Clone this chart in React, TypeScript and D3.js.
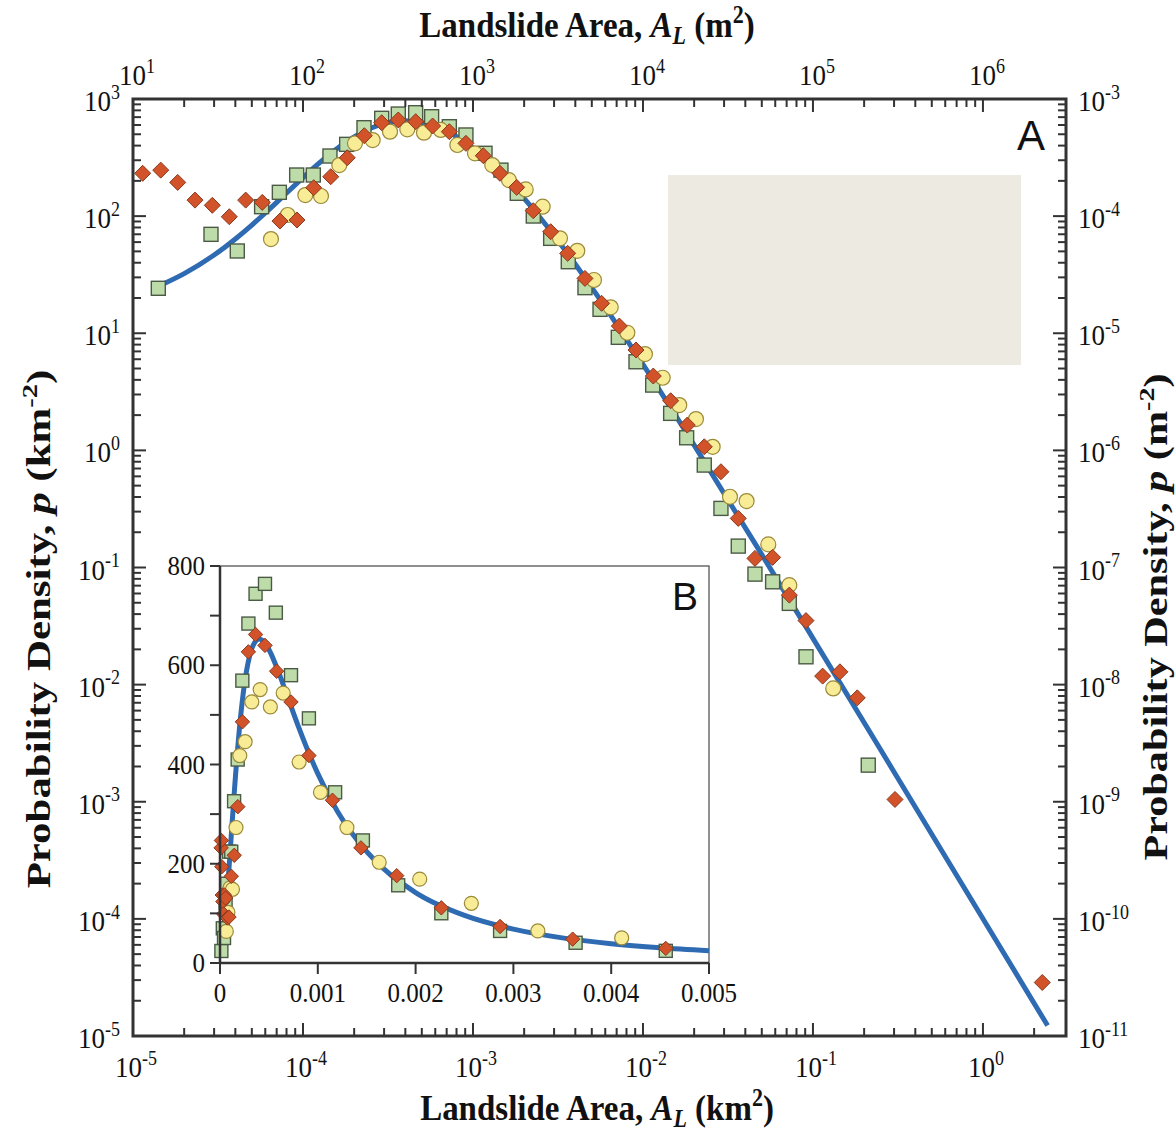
import React from 'react';
import * as d3 from 'd3';

// ---------- data (A in km², p in km^-2) ----------
const curveA = [0, 1e-5, 1.4e-5, 2e-5, 3e-5, 4e-5, 5e-5, 6e-5, 7e-5, 8e-5, 1e-4, 1.2e-4, 1.5e-4, 2e-4, 2.5e-4, 3e-4, 3.5e-4, 4e-4, 4.5e-4, 5e-4, 6e-4, 7e-4, 8e-4, 1e-3, 1.2e-3, 1.5e-3, 2e-3, 2.5e-3, 3e-3, 3.5e-3, 4e-3, 4.5e-3, 5e-3, 7e-3, 1e-2, 2e-2, 5e-2, 0.1, 0.3, 1, 2.4];
const curveP = [12.6, 21.0, 25.1, 32.3, 46.5, 63.8, 83.8, 106.3, 130.9, 157.4, 213.3, 270.9, 355.0, 475.2, 562.0, 616.5, 644.5, 652.9, 647.0, 631.9, 585.7, 531.4, 477.4, 381.6, 306.0, 224.3, 142.0, 96.0, 68.3, 50.65, 38.8, 30.5, 24.49, 11.92, 5.413, 1.109, 0.129, 0.02484, 1.797e-3, 1.003e-4, 1.228e-5];

const squareA = [1.409e-5, 2.876e-5, 4.107e-5, 5.71e-5, 7.26e-5, 9.18e-5, 1.150e-4, 1.441e-4, 1.807e-4, 2.285e-4, 2.904e-4, 3.636e-4, 4.60e-4, 5.71e-4, 7.26e-4, 9.09e-4, 1.177e-3, 1.461e-3, 1.822e-3, 2.263e-3, 2.864e-3, 3.636e-3, 4.558e-3, 5.59e-3, 7.16e-3, 9.10e-3, 1.141e-2, 1.455e-2, 1.807e-2, 2.294e-2, 2.876e-2, 3.636e-2, 4.558e-2, 5.79e-2, 7.26e-2, 9.10e-2, 0.2115];
const squareP = [24.2, 69.9, 50.4, 120.3, 159.7, 224.4, 224.4, 326, 410, 569, 684, 744, 764, 706, 580, 493, 344, 247, 156.6, 100.2, 64.6, 40.8, 24.5, 16.0, 9.23, 5.71, 3.61, 2.07, 1.281, 0.749, 0.3196, 0.1523, 0.0878, 0.0755, 0.0494, 0.01728, 2.054e-3];

const circleA = [6.48e-5, 8.13e-5, 1.032e-4, 1.276e-4, 1.635e-4, 2.022e-4, 2.57e-4, 3.25e-4, 4.107e-4, 5.15e-4, 6.46e-4, 8.09e-4, 1.027e-3, 1.298e-3, 1.628e-3, 2.042e-3, 2.57e-3, 3.25e-3, 4.107e-3, 5.15e-3, 6.46e-3, 8.09e-3, 1.027e-2, 1.306e-2, 1.635e-2, 2.05e-2, 2.57e-2, 3.25e-2, 4.07e-2, 5.46e-2, 7.26e-2, 0.1316];
const circleP = [63.7, 102.2, 151.4, 148.5, 273, 418, 446, 526, 551, 516, 544, 405, 344, 273, 203, 169, 120.3, 64.6, 50.6, 28.5, 16.64, 10.1, 6.64, 4.17, 2.436, 1.851, 1.073, 0.4017, 0.369, 0.1575, 0.0707, 0.00928];

const diamondA = [1.140e-5, 1.456e-5, 1.832e-5, 2.316e-5, 2.928e-5, 3.686e-5, 4.60e-5, 5.76e-5, 7.32e-5, 9.22e-5, 1.156e-4, 1.456e-4, 1.822e-4, 2.294e-4, 2.904e-4, 3.636e-4, 4.60e-4, 5.79e-4, 7.26e-4, 9.09e-4, 1.150e-3, 1.441e-3, 1.807e-3, 2.263e-3, 2.864e-3, 3.606e-3, 4.558e-3, 5.71e-3, 7.26e-3, 9.10e-3, 1.150e-2, 1.455e-2, 1.822e-2, 2.294e-2, 2.876e-2, 3.636e-2, 4.558e-2, 5.79e-2, 7.26e-2, 9.10e-2, 0.1140, 0.1441, 0.1822, 0.3037, 2.233];
const diamondP = [232, 247, 194, 137, 123.7, 98.8, 137, 131, 90.8, 92.6, 174.8, 217, 315, 486, 627, 662, 640, 588, 526, 418, 328, 232, 176, 111.2, 73.6, 48.1, 29.4, 18.0, 11.52, 7.19, 4.31, 2.652, 1.644, 1.073, 0.657, 0.2626, 0.1196, 0.1220, 0.0581, 0.0352, 0.01182, 0.01286, 0.00771, 1.046e-3, 2.863e-5];

const bottomExps = ['-5', '-4', '-3', '-2', '-1', '0'];
const topExps = ['1', '2', '3', '4', '5', '6'];
const leftExps = ['3', '2', '1', '0', '-1', '-2', '-3', '-4', '-5'];
const rightExps = ['-3', '-4', '-5', '-6', '-7', '-8', '-9', '-10', '-11'];
const insetXTicks = [0, 0.001, 0.002, 0.003, 0.004, 0.005];
const insetXLabels = ['0', '0.001', '0.002', '0.003', '0.004', '0.005'];
const insetYTicks = [0, 100, 200, 300, 400, 500, 600, 700, 800];
const insetYLabels = [0, 200, 400, 600, 800];

const SERIF = '"Liberation Serif", "Times New Roman", serif';
const SANS = '"Liberation Sans", Arial, sans-serif';
const AX = '#333';
const BLUE = '#2E6BB2';
const SQ_FILL = '#BEDCAA', SQ_STROKE = '#4A5A45';
const CI_FILL = '#F9EC96', CI_STROKE = '#9A8A3A';
const DI_FILL = '#D2522A', DI_STROKE = '#8A3A1E';

const TS = 1.12; // vertical stretch of text

function Pow({ x, y, exp, anchor }: { x: number; y: number; exp: string; anchor: string }) {
  return (
    <text transform={`translate(${x},${y}) scale(1,${TS})`} textAnchor={anchor} fontFamily={SERIF} fontSize={27} fill="#111">
      10<tspan dy={-11} fontSize={18}>{exp}</tspan>
    </text>
  );
}

function Markers({ A, P, sx, sy, kind, s }: any) {
  return (
    <g>
      {A.map((a: number, i: number) => {
        const cx = sx(a), cy = sy(P[i]);
        if (kind === 'sq') return <rect key={i} x={cx - s} y={cy - s} width={2 * s} height={2 * s} fill={SQ_FILL} stroke={SQ_STROKE} strokeWidth={1.4} />;
        if (kind === 'ci') return <circle key={i} cx={cx} cy={cy} r={s + 0.5} fill={CI_FILL} stroke={CI_STROKE} strokeWidth={1.2} />;
        const r = s + 1;
        return <path key={i} d={`M${cx},${cy - r}L${cx + r},${cy}L${cx},${cy + r}L${cx - r},${cy}Z`} fill={DI_FILL} stroke={DI_STROKE} strokeWidth={1} />;
      })}
    </g>
  );
}

export default function App() {
  const mX0 = 133, mX1 = 1066, mY0 = 99, mY1 = 1036;
  const x = d3.scaleLog().domain([1e-5, 3.08]).range([mX0, mX1]);
  const xTop = d3.scaleLog().domain([10, 3.08e6]).range([mX0, mX1]);
  const y = d3.scaleLog().domain([1e-5, 1e3]).range([mY1, mY0]);
  const yR = d3.scaleLog().domain([1e-11, 1e-3]).range([mY1, mY0]);
  const ix = d3.scaleLinear().domain([0, 0.005]).range([220, 709]);
  const iy = d3.scaleLinear().domain([0, 800]).range([963, 566]);

  const pts = curveA.map((a, i) => [a, curveP[i]] as [number, number]);
  const mainLine = d3.line<[number, number]>().x(d => x(d[0])).y(d => y(d[1])).curve(d3.curveMonotoneX);
  const insetLine = d3.line<[number, number]>().x(d => ix(d[0])).y(d => iy(d[1])).curve(d3.curveMonotoneX);
  const mainPath = mainLine(pts.filter(d => d[0] >= 1.4e-5)) || '';
  const insetPath = insetLine(pts.filter(d => d[0] <= 0.005)) || '';

  const isMajor = (v: number) => Math.abs(Math.log10(v) - Math.round(Math.log10(v))) < 1e-6;
  const bTicks = x.ticks().filter(v => v < 2.9);
  const tTicks = xTop.ticks().filter(v => v <= 1.0001e6);
  const yTicks = y.ticks();
  const MAJ = 13, MIN = 8;

  const filt = (A: number[], P: number[]) => {
    const a: number[] = [], p: number[] = [];
    A.forEach((v, i) => { if (v <= 0.005) { a.push(v); p.push(P[i]); } });
    return [a, p];
  };
  const [sqIA, sqIP] = filt(squareA, squareP);
  const [ciIA, ciIP] = filt(circleA, circleP);
  const [diIA, diIP] = filt(diamondA, diamondP);

  return (
    <svg width={1176} height={1134} style={{ display: 'block', position: 'absolute', left: 0, top: 0, background: '#fff' }}>
      <rect x={0} y={0} width={1176} height={1134} fill="#fff" />
      {/* beige box */}
      <rect x={668} y={175} width={353} height={190} fill="#ECEAE1" />

      {/* main curve and data */}
      <path d={mainPath} fill="none" stroke={BLUE} strokeWidth={5} />
      <Markers A={squareA} P={squareP} sx={x} sy={y} kind="sq" s={7} />
      <Markers A={circleA} P={circleP} sx={x} sy={y} kind="ci" s={7} />
      <Markers A={diamondA} P={diamondP} sx={x} sy={y} kind="di" s={7} />

      {/* frame */}
      <rect x={mX0} y={mY0} width={mX1 - mX0} height={mY1 - mY0} fill="none" stroke={AX} strokeWidth={3} />
      {bTicks.map((v, i) => {
        const L = isMajor(v) ? MAJ : MIN;
        return <line key={'b' + i} x1={x(v)} x2={x(v)} y1={mY1} y2={mY1 - L} stroke={AX} strokeWidth={2} />;
      })}
      {tTicks.map((v, i) => {
        const L = isMajor(v) ? MAJ : MIN;
        return <line key={'t' + i} x1={xTop(v)} x2={xTop(v)} y1={mY0} y2={mY0 + L} stroke={AX} strokeWidth={2} />;
      })}
      {yTicks.map((v, i) => {
        const L = isMajor(v) ? MAJ : MIN;
        return (
          <g key={'y' + i}>
            <line x1={mX0} x2={mX0 + L} y1={y(v)} y2={y(v)} stroke={AX} strokeWidth={2} />
            <line x1={mX1} x2={mX1 - L} y1={y(v)} y2={y(v)} stroke={AX} strokeWidth={2} />
          </g>
        );
      })}

      {/* tick labels */}
      {bottomExps.map((e, i) => <Pow key={'bl' + i} x={x(Math.pow(10, +e)) + 3} y={1077} exp={e} anchor="middle" />)}
      {topExps.map((e, i) => <Pow key={'tl' + i} x={xTop(Math.pow(10, +e)) + 4} y={85} exp={e} anchor="middle" />)}
      {leftExps.map((e, i) => <Pow key={'ll' + i} x={120} y={y(Math.pow(10, +e)) + 12} exp={e} anchor="end" />)}
      {rightExps.map((e, i) => <Pow key={'rl' + i} x={1078} y={yR(Math.pow(10, +e)) + 12} exp={e} anchor="start" />)}

      {/* axis titles */}
      <text transform={`translate(587,37) scale(1,1.1)`} textAnchor="middle" fontFamily={SERIF} fontWeight="bold" fontSize={33} fill="#111">
        Landslide Area, <tspan fontStyle="italic">A</tspan><tspan fontStyle="italic" fontSize={22} dy={6}>L</tspan><tspan dy={-6}> (m</tspan><tspan fontSize={22} dy={-13}>2</tspan><tspan dy={13}>)</tspan>
      </text>
      <text transform={`translate(597,1120) scale(1,1.1)`} textAnchor="middle" fontFamily={SERIF} fontWeight="bold" fontSize={33} fill="#111">
        Landslide Area, <tspan fontStyle="italic">A</tspan><tspan fontStyle="italic" fontSize={22} dy={6}>L</tspan><tspan dy={-6}> (km</tspan><tspan fontSize={22} dy={-13}>2</tspan><tspan dy={13}>)</tspan>
      </text>
      <text transform={`translate(50,629) rotate(-90) scale(1.3,1)`} textAnchor="middle" fontFamily={SERIF} fontWeight="bold" fontSize={33} fill="#111">
        Probability Density, <tspan fontStyle="italic">p</tspan> (km<tspan fontSize={22} dy={-13}>-2</tspan><tspan dy={13}>)</tspan>
      </text>
      <text transform={`translate(1167,617) rotate(-90) scale(1.28,1)`} textAnchor="middle" fontFamily={SERIF} fontWeight="bold" fontSize={33} fill="#111">
        Probability Density, <tspan fontStyle="italic">p</tspan> (m<tspan fontSize={22} dy={-13}>-2</tspan><tspan dy={13}>)</tspan>
      </text>

      <text x={1017} y={150} fontFamily={SANS} fontSize={42} fill="#111">A</text>

      {/* inset */}
      <rect x={220} y={566} width={489} height={397} fill="#fff" stroke="#555" strokeWidth={1.3} />
      <path d={insetPath} fill="none" stroke={BLUE} strokeWidth={5} />
      <Markers A={sqIA} P={sqIP} sx={ix} sy={iy} kind="sq" s={6.5} />
      <Markers A={ciIA} P={ciIP} sx={ix} sy={iy} kind="ci" s={6.5} />
      <Markers A={diIA} P={diIP} sx={ix} sy={iy} kind="di" s={6.2} />
      <line x1={220} x2={220} y1={566} y2={964} stroke={AX} strokeWidth={2.5} />
      <line x1={219} x2={709} y1={963} y2={963} stroke={AX} strokeWidth={2.5} />
      {insetYTicks.map((v, i) => <line key={'iy' + i} x1={210} x2={220} y1={iy(v)} y2={iy(v)} stroke={AX} strokeWidth={2} />)}
      {insetXTicks.map((v, i) => <line key={'ix' + i} x1={ix(v)} x2={ix(v)} y1={963} y2={974} stroke={AX} strokeWidth={2} />)}
      {insetYLabels.map((v, i) => (
        <text key={'iyl' + i} transform={`translate(205,${iy(v) + 9}) scale(1,${TS})`} textAnchor="end" fontFamily={SERIF} fontSize={25} fill="#111">{v}</text>
      ))}
      {insetXLabels.map((s, i) => (
        <text key={'ixl' + i} transform={`translate(${ix(insetXTicks[i])},1002) scale(1,${TS})`} textAnchor="middle" fontFamily={SERIF} fontSize={25} fill="#111">{s}</text>
      ))}
      <text x={672} y={610} fontFamily={SANS} fontSize={39} fill="#111">B</text>
    </svg>
  );
}
